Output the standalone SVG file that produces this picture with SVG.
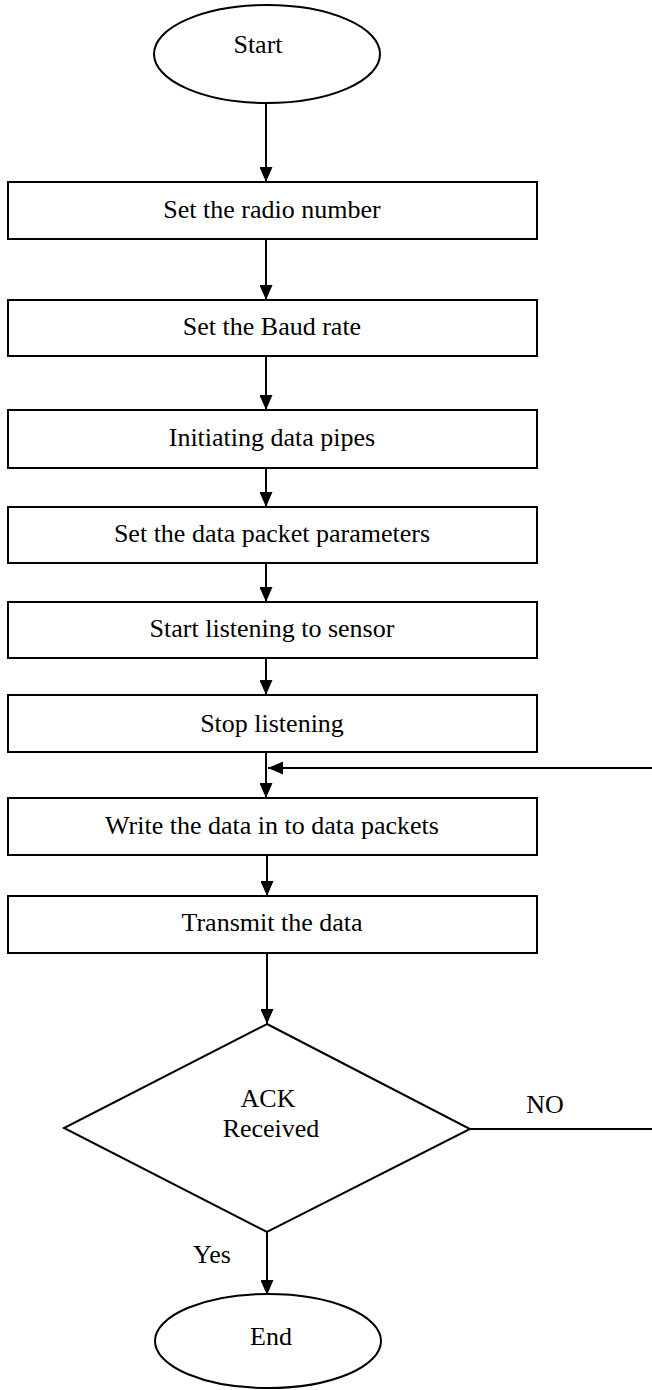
<svg xmlns="http://www.w3.org/2000/svg" width="652" height="1390" viewBox="0 0 652 1390">
  <style>
    .shape { fill: #ffffff; stroke: #000000; stroke-width: 2; }
    .label { font-family: "Liberation Serif", "Times New Roman", serif; font-size: 26px; fill: #000000; text-anchor: middle; }
    .wire { fill: none; stroke: #000000; stroke-width: 2; }
  </style>
  <defs>
    <marker id="arrow" markerUnits="userSpaceOnUse" markerWidth="15" markerHeight="13" refX="15" refY="6.5" orient="auto">
      <path d="M0,0 L15,6.5 L0,13 Z" fill="#000000"/>
    </marker>
  </defs>

  <rect width="652" height="1390" fill="#ffffff"/>

  <!-- connectors -->
  <g id="connectors">
    <line class="wire" x1="266" y1="103" x2="266" y2="182" marker-end="url(#arrow)"/>
    <line class="wire" x1="266" y1="239" x2="266" y2="300" marker-end="url(#arrow)"/>
    <line class="wire" x1="266" y1="356" x2="266" y2="410" marker-end="url(#arrow)"/>
    <line class="wire" x1="266" y1="468" x2="266" y2="507" marker-end="url(#arrow)"/>
    <line class="wire" x1="266" y1="563" x2="266" y2="602" marker-end="url(#arrow)"/>
    <line class="wire" x1="266" y1="658" x2="266" y2="695" marker-end="url(#arrow)"/>
    <line class="wire" x1="266" y1="752" x2="266" y2="798" marker-end="url(#arrow)"/>
    <line class="wire" x1="267" y1="855" x2="267" y2="896" marker-end="url(#arrow)"/>
    <line class="wire" x1="267" y1="953" x2="267" y2="1024" marker-end="url(#arrow)"/>
    <!-- retry loop back into the write step -->
    <line class="wire" x1="652" y1="768" x2="268" y2="768" marker-end="url(#arrow)"/>
    <line class="wire" x1="470" y1="1129" x2="652" y2="1129"/>
    <line class="wire" x1="267" y1="1232" x2="267" y2="1295" marker-end="url(#arrow)"/>
    <text class="label" x="545" y="1113">NO</text>
    <text class="label" x="212" y="1263">Yes</text>
  </g>

  <g id="start">
    <ellipse class="shape" cx="267" cy="54" rx="113" ry="49"/>
    <text class="label" x="258" y="53">Start</text>
  </g>

  <g id="set-radio-number">
    <rect class="shape" x="8" y="182" width="529" height="57"/>
    <text class="label" x="272" y="218">Set the radio number</text>
  </g>

  <g id="set-baud-rate">
    <rect class="shape" x="8" y="300" width="529" height="56"/>
    <text class="label" x="272" y="335">Set the Baud rate</text>
  </g>

  <g id="init-pipes">
    <rect class="shape" x="8" y="410" width="529" height="58"/>
    <text class="label" x="272" y="446">Initiating data pipes</text>
  </g>

  <g id="packet-params">
    <rect class="shape" x="8" y="507" width="529" height="56"/>
    <text class="label" x="272" y="542">Set the data packet parameters</text>
  </g>

  <g id="start-listening">
    <rect class="shape" x="8" y="602" width="529" height="56"/>
    <text class="label" x="272" y="637">Start listening to sensor</text>
  </g>

  <g id="stop-listening">
    <rect class="shape" x="8" y="695" width="529" height="57"/>
    <text class="label" x="272" y="732">Stop listening</text>
  </g>

  <g id="write-packets">
    <rect class="shape" x="8" y="798" width="529" height="57"/>
    <text class="label" x="272" y="834">Write the data in to data packets</text>
  </g>

  <g id="transmit">
    <rect class="shape" x="8" y="896" width="529" height="57"/>
    <text class="label" x="272" y="931">Transmit the data</text>
  </g>

  <g id="ack-check">
    <polygon class="shape" points="267,1024 470,1129 267,1232 64,1128"/>
    <text class="label" x="268" y="1107">ACK</text>
    <text class="label" x="271" y="1137">Received</text>
  </g>

  <g id="end">
    <ellipse class="shape" cx="268" cy="1341" rx="113" ry="47"/>
    <text class="label" x="271" y="1345">End</text>
  </g>
</svg>
